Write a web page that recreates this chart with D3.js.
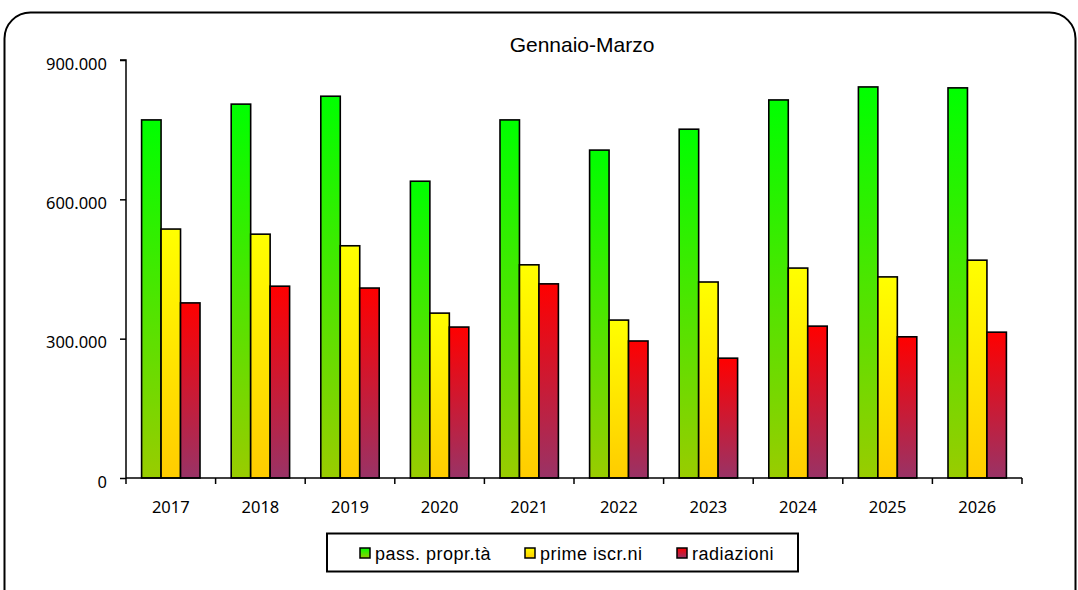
<!DOCTYPE html>
<html>
<head>
<meta charset="utf-8">
<script src="https://cdn.jsdelivr.net/npm/d3@7"></script>
<style>
  body { margin: 0; background: #fff; }
</style>
</head>
<body>
<div id="chart"></div>
<script>
// data
const years = ['2017', '2018', '2019', '2020', '2021', '2022', '2023', '2024', '2025', '2026'];
const passaggi = [771000, 805000, 822000, 639000, 771000, 706000, 751000, 814000, 842000, 840000];
const primeIscr = [536000, 525000, 500000, 355000, 459000, 340000, 422000, 452000, 433000, 469000];
const radiazioni = [377000, 413000, 409000, 325000, 418000, 295000, 258000, 327000, 304000, 314000];
const seriesNames = ['pass. propr.tà', 'prime iscr.ni', 'radiazioni'];
const yTicks = [0, 300000, 600000, 900000];

const w = 1078, h = 590;
const padL = 126, padR = 1022, padT = 60, padB = 478;

const svg = d3.select('#chart').append('svg')
  .attr('width', w).attr('height', h);

// gradients (top -> bottom of each bar)
const grads = [
  ['gGreen', '#00ff00', '#99cc00'],
  ['gYellow', '#ffff00', '#ffcc00'],
  ['gRed', '#ff0000', '#993366']
];
const defs = svg.append('defs');
grads.forEach(g => {
  const lg = defs.append('linearGradient').attr('id', g[0])
    .attr('x1', 0).attr('y1', 0).attr('x2', 0).attr('y2', 1);
  lg.append('stop').attr('offset', '0%').attr('stop-color', g[1]);
  lg.append('stop').attr('offset', '100%').attr('stop-color', g[2]);
});

// outer rounded frame
svg.append('rect')
  .attr('x', 4.5).attr('y', 12.5).attr('width', 1071).attr('height', 620)
  .attr('rx', 26).attr('ry', 26)
  .attr('fill', 'none').attr('stroke', '#000').attr('stroke-width', 2);

const x = d3.scaleBand().domain(years).range([padL, padR]).paddingInner(0).paddingOuter(0);
const inner = d3.scaleBand().domain([0, 1, 2])
  .range([15.6, x.bandwidth() - 15.6]).padding(0);
const y = d3.scaleLinear().domain([0, 900000]).range([padB, padT]);

const series = [passaggi, primeIscr, radiazioni];

series.forEach((vals, si) => {
  svg.append('g').selectAll('rect')
    .data(vals)
    .enter()
    .append('rect')
    .attr('x', (d, i) => x(years[i]) + inner(si))
    .attr('y', d => y(d))
    .attr('width', inner.bandwidth())
    .attr('height', d => padB - y(d))
    .attr('fill', `url(#${grads[si][0]})`)
    .attr('stroke', '#000')
    .attr('stroke-width', 1.6);
});

// y axis
const fmt = v => v === 0 ? '0' : d3.format(',')(v).replace(/,/g, '.');
const yAxis = d3.axisLeft(y).tickValues(yTicks).tickFormat(fmt).tickSize(6).tickPadding(13);
const gy = svg.append('g').attr('transform', `translate(${padL},0)`).call(yAxis);
gy.select('.domain').attr('d', `M-6,${padT}H0V${padB}`).attr('stroke-width', 1.5);
gy.selectAll('.tick line').attr('stroke-width', 1.5);
gy.selectAll('text')
  .attr('font-family', 'Noto Sans').attr('font-size', 16.5).attr('fill', '#000')
  .attr('dy', '0.55em');

// x axis with ticks at category boundaries
const gx = svg.append('g').attr('transform', `translate(0,${padB})`);
gx.append('path')
  .attr('d', `M${padL},0H${padR}`)
  .attr('stroke', '#000').attr('stroke-width', 1.5);
gx.selectAll('line.bt')
  .data(years.map(yr => x(yr)).concat([padR]))
  .enter().append('line')
  .attr('x1', d => d).attr('x2', d => d)
  .attr('y1', 0).attr('y2', 6)
  .attr('stroke', '#000').attr('stroke-width', 1.5);
gx.selectAll('text')
  .data(years)
  .enter().append('text')
  .attr('x', d => x(d) + x.bandwidth() / 2)
  .attr('y', 34.5)
  .attr('text-anchor', 'middle')
  .attr('font-family', 'Noto Sans').attr('font-size', 16.5)
  .text(d => d);

// title
svg.append('text')
  .attr('x', 582).attr('y', 52)
  .attr('text-anchor', 'middle')
  .attr('font-family', 'Liberation Sans, Arial').attr('font-size', 21)
  .text('Gennaio-Marzo');

// legend
const lg = svg.append('g');
lg.append('rect')
  .attr('x', 327).attr('y', 533.5).attr('width', 471).attr('height', 38)
  .attr('fill', '#fff').attr('stroke', '#000').attr('stroke-width', 2);
const legX = [360, 525, 677];
seriesNames.forEach((name, i) => {
  lg.append('rect')
    .attr('x', legX[i]).attr('y', 548).attr('width', 10).attr('height', 10)
    .attr('fill', `url(#${grads[i][0]})`).attr('stroke', '#000').attr('stroke-width', 1.5);
  lg.append('text')
    .attr('x', legX[i] + 15).attr('y', 560)
    .attr('font-family', 'Liberation Sans, Arial').attr('font-size', 18)
    .attr('letter-spacing', 0.5)
    .text(name);
});
</script>
</body>
</html>
